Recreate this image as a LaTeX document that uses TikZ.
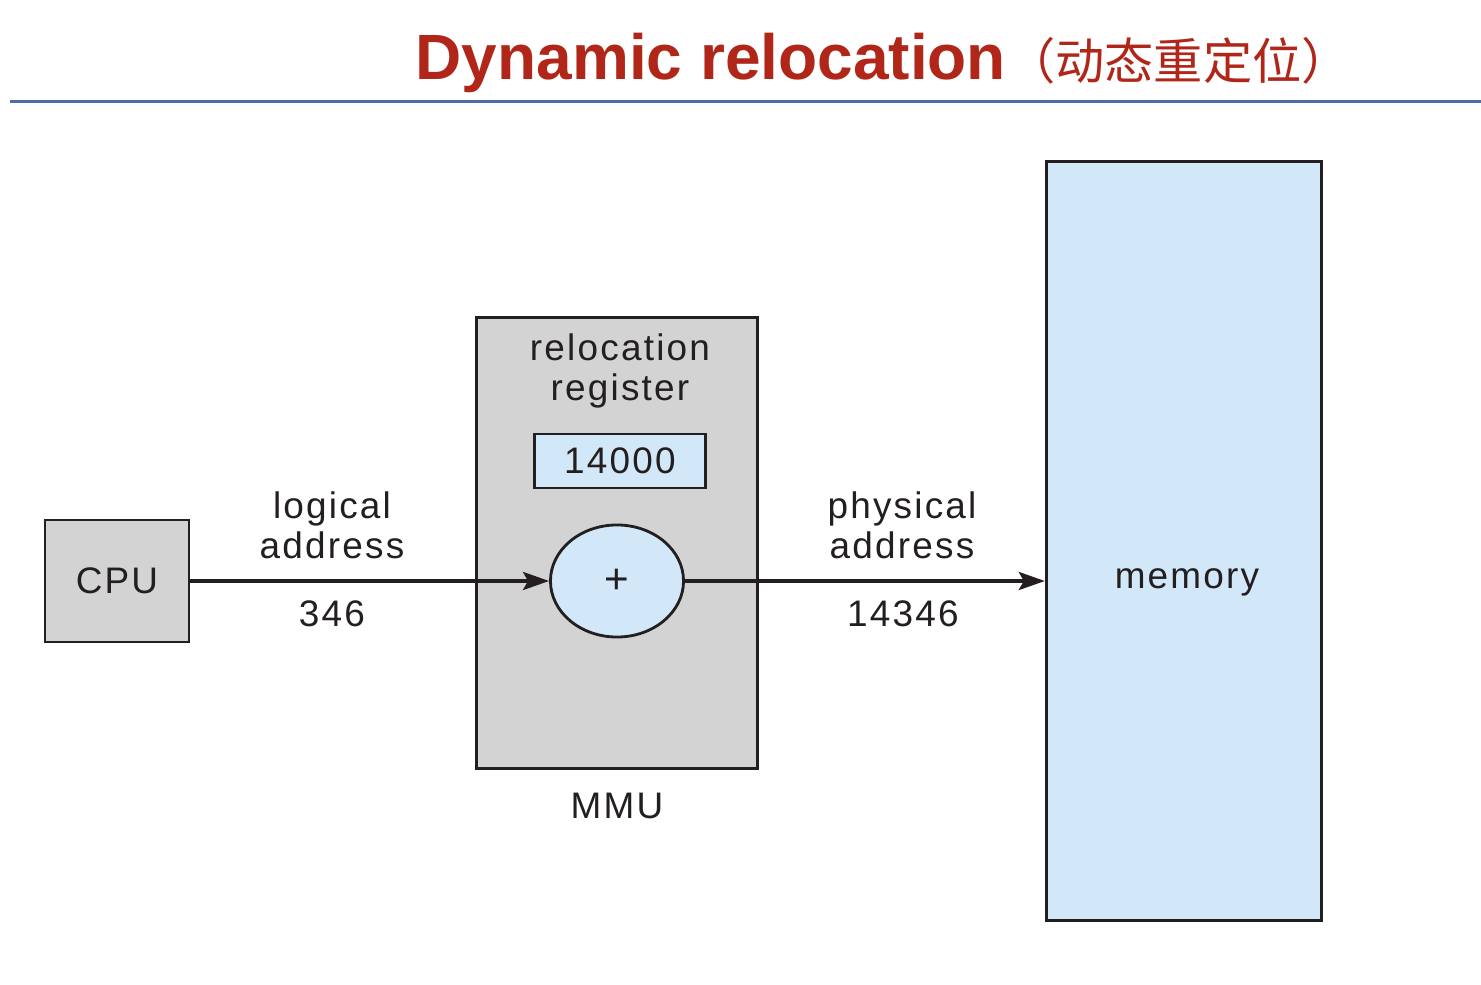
\documentclass[tikz,border=0pt]{standalone}
\usepackage{fontspec}
\setmainfont{Liberation Sans}
\newfontfamily\labelfont[LetterSpace=6]{Liberation Sans}
\newfontfamily\cjkfont{Noto Sans CJK SC}
\usetikzlibrary{arrows.meta,shapes.geometric}
\definecolor{mTitleRed}{HTML}{B0271A}
\definecolor{mRuleBlue}{HTML}{4F6D9E}
\definecolor{mBoxGray}{HTML}{D3D3D3}
\definecolor{mLightBlue}{HTML}{D2E7F8}
\definecolor{mInk}{HTML}{231F20}

\begin{document}
\begin{tikzpicture}[x=0.01cm, y=-0.01cm, font=\labelfont\fontsize{10.5}{11.4}\selectfont,
  box/.style={draw=mInk, line width=0.8pt, inner sep=0pt},
  lbl/.style={align=center, text=mInk, inner sep=0pt},
  flow/.style={-{Stealth[length=2.6mm, width=1.8mm, inset=0.5mm]}, mInk, line width=1pt}]
\useasboundingbox (0,0) rectangle (1481,985);
\fill[white] (0,0) rectangle (1481,985);
% title and rule
\node[text=mTitleRed, anchor=base west, inner sep=0pt, font=\fontsize{18.2}{20}\selectfont\bfseries] (title) at (415,80)
  {Dynamic relocation{\cjkfont\mdseries\fontsize{14}{16}\selectfont （动态重定位）}};
\draw[mRuleBlue, line width=0.3mm] (10,102) -- (1481,102);
% CPU, MMU and memory
\node[box, fill=mBoxGray, minimum width=1.44cm, minimum height=1.22cm, text=mInk] (cpu) at (117,581) {CPU};
\node[box, fill=mBoxGray, minimum width=2.81cm, minimum height=4.51cm] (mmu) at (617,543) {};
\node[lbl] (regname) at (620,371) {relocation\\register};
\node[box, fill=mLightBlue, minimum width=1.71cm, minimum height=0.54cm, text=mInk] (reg) at (620,461) {14000};
\node[box, ellipse, fill=mLightBlue, minimum width=1.33cm, minimum height=1.12cm, text=mInk,
  font=\fontsize{12}{12}\selectfont] (adder) at (617,581) {+};
\node[lbl] (mmuname) at (617,806) {MMU};
\node[box, fill=mLightBlue, line width=0.9pt, minimum width=2.75cm, minimum height=7.59cm, text=mInk] (memory) at (1184,541) {};
\node[lbl] (memname) at (1187,582) {memory};
% addresses
\node[lbl] (logical) at (332,525) {logical\\address};
\node[lbl] (logval) at (332,614) {346};
\node[lbl] (physical) at (902,525) {physical\\address};
\node[lbl] (physval) at (903,614) {14346};
\draw[flow] (cpu.east) -- (adder.west);
\draw[flow] (adder.east) -- (memory.west |- adder.east);
\end{tikzpicture}
\end{document}
